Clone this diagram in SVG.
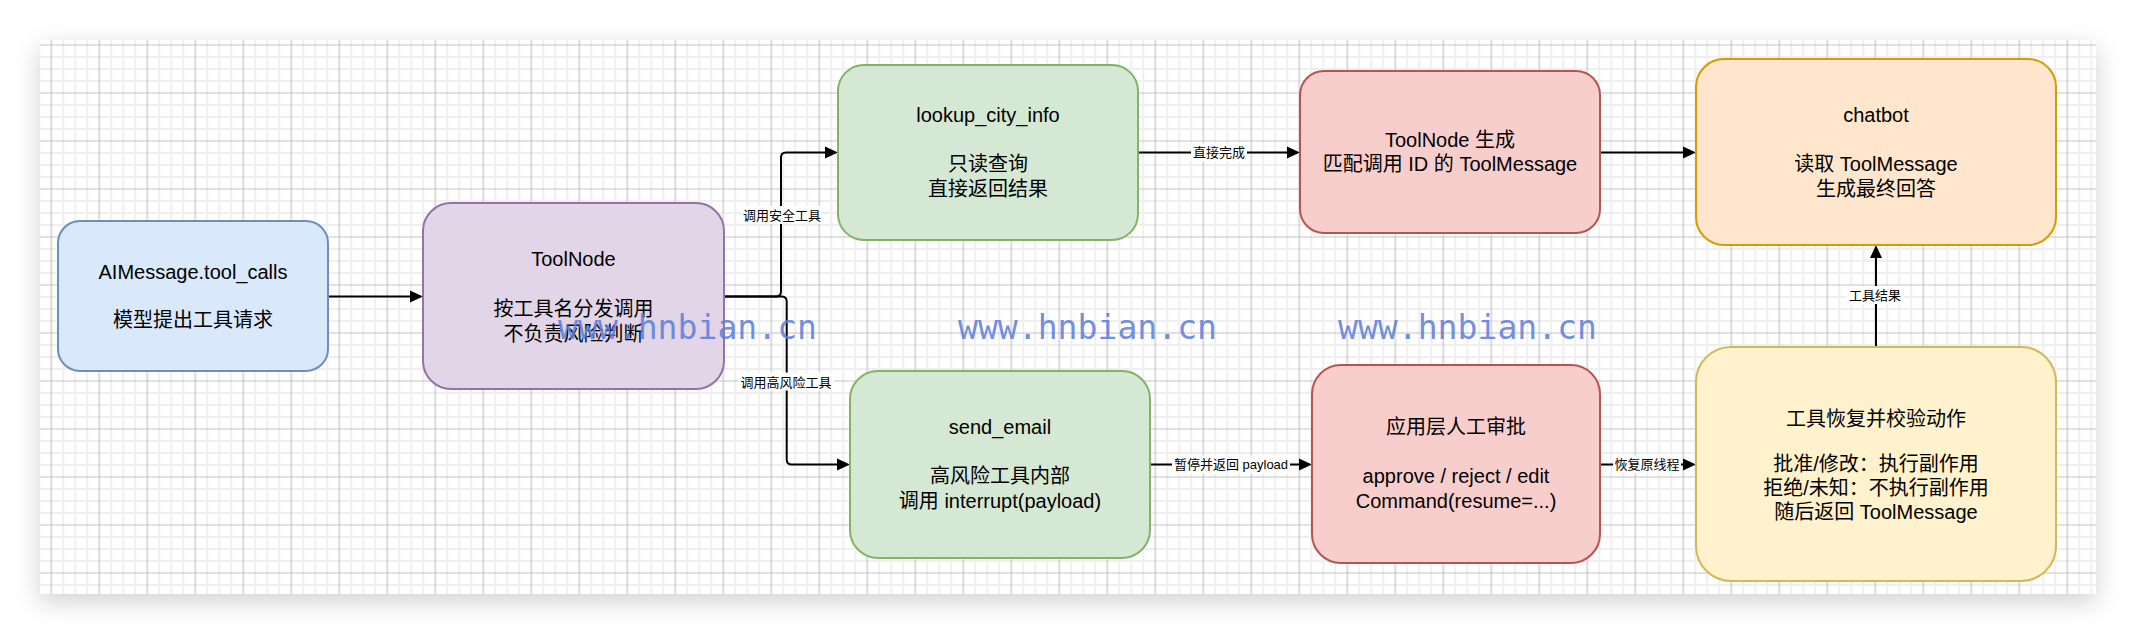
<svg xmlns="http://www.w3.org/2000/svg" width="2136" height="634" viewBox="0 0 2136 634">
<defs>
  <pattern id="grid" patternUnits="userSpaceOnUse" x="45.3" y="39" width="48" height="48">
    <path d="M18 0V48M30 0V48M42 0V48M0 18H48M0 30H48M0 42H48" stroke="#efefef" stroke-width="2" fill="none"/>
    <path d="M6 0V48M0 6H48" stroke="#c4c4c4" stroke-width="1.2" fill="none"/>
  </pattern>
  <filter id="shadow" x="-5%" y="-20%" width="110%" height="145%">
    <feDropShadow dx="0" dy="8" stdDeviation="12" flood-color="#000" flood-opacity="0.18"/>
  </filter>
  <marker id="arrow" markerUnits="userSpaceOnUse" markerWidth="14" markerHeight="14" refX="0" refY="6" orient="auto" overflow="visible">
    <path d="M0,0 L13,6 L0,12 Z" fill="#000"/>
  </marker>
</defs>
<style>
  .box { stroke-width: 2; }
  .t { font-family: "Liberation Sans", "Noto Sans CJK SC", sans-serif; font-size: 20px; fill: #000; text-anchor: middle; }
  .lbl { font-family: "Liberation Sans", "Noto Sans CJK SC", sans-serif; font-size: 13px; fill: #000; text-anchor: middle; }
  .edge { fill: none; stroke: #000; stroke-width: 2; marker-end: url(#arrow); }
  .wm { font-family: "DejaVu Sans Mono", "Liberation Mono", monospace; font-size: 34px; fill: #5f80dc; fill-opacity: 0.9; }
</style>
<rect x="0" y="0" width="2136" height="634" fill="#ffffff"/>
<rect x="40" y="40" width="2056" height="554" fill="#ffffff" filter="url(#shadow)"/>
<rect x="40" y="40" width="2056" height="554" fill="url(#grid)"/>

<g id="connectors">
  <path class="edge" d="M328 296.5H410"/>
  <path class="edge" d="M724 296.5H776Q781 296.5 781 291.5V157.5Q781 152.5 786 152.5H825"/>
  <path class="edge" d="M724 296.5H781.7Q786.7 296.5 786.7 301.5V459.5Q786.7 464.5 791.7 464.5H837"/>
  <path class="edge" d="M1138 152.5H1287"/>
  <path class="edge" d="M1600 152.5H1683"/>
  <path class="edge" d="M1150 464.5H1299"/>
  <path class="edge" d="M1600 464.5H1683"/>
  <path class="edge" d="M1876 347V258"/>
  <g id="edge-labels">
    <rect x="742" y="206" width="80" height="18" fill="#fff"/>
    <text class="lbl" x="782" y="220">调用安全工具</text>
    <rect x="738" y="372.5" width="96" height="18" fill="#fff"/>
    <text class="lbl" x="786" y="386.5">调用高风险工具</text>
    <rect x="1191" y="143.5" width="56" height="18" fill="#fff"/>
    <text class="lbl" x="1219" y="157">直接完成</text>
    <rect x="1172" y="455.5" width="118" height="18" fill="#fff"/>
    <text class="lbl" x="1231" y="469">暂停并返回 payload</text>
    <rect x="1613" y="455.5" width="68" height="18" fill="#fff"/>
    <text class="lbl" x="1647" y="469">恢复原线程</text>
    <rect x="1846" y="286" width="58" height="18" fill="#fff"/>
    <text class="lbl" x="1875" y="299.5">工具结果</text>
  </g>
</g>

<g id="node-aimessage">
  <rect class="box" x="58" y="221" width="270" height="150" rx="22" fill="#dae8fc" stroke="#6c8ebf"/>
  <text class="t" x="193" y="279">AIMessage.tool_calls</text>
  <text class="t" x="193" y="327">模型提出工具请求</text>
</g>
<g id="node-toolnode">
  <rect class="box" x="423" y="203" width="301" height="186" rx="28" fill="#e1d5e7" stroke="#9673a6"/>
  <text class="t" x="573.5" y="266">ToolNode</text>
  <text class="t" x="573.5" y="316">按工具名分发调用</text>
  <text class="t" x="573.5" y="341">不负责风险判断</text>
</g>
<g id="node-lookup">
  <rect class="box" x="838" y="65" width="300" height="175" rx="26" fill="#d5e8d4" stroke="#82b366"/>
  <text class="t" x="988" y="122">lookup_city_info</text>
  <text class="t" x="988" y="171">只读查询</text>
  <text class="t" x="988" y="195.5">直接返回结果</text>
</g>
<g id="node-send-email">
  <rect class="box" x="850" y="371" width="300" height="187" rx="28" fill="#d5e8d4" stroke="#82b366"/>
  <text class="t" x="1000" y="434">send_email</text>
  <text class="t" x="1000" y="482.5">高风险工具内部</text>
  <text class="t" x="1000" y="508">调用 interrupt(payload)</text>
</g>
<g id="node-toolnode-gen">
  <rect class="box" x="1300" y="71" width="300" height="162" rx="24" fill="#f8cecc" stroke="#b85450"/>
  <text class="t" x="1450" y="146.5">ToolNode 生成</text>
  <text class="t" x="1450" y="171">匹配调用 ID 的 ToolMessage</text>
</g>
<g id="node-approval">
  <rect class="box" x="1312" y="365" width="288" height="198" rx="29" fill="#f8cecc" stroke="#b85450"/>
  <text class="t" x="1456" y="434">应用层人工审批</text>
  <text class="t" x="1456" y="483">approve / reject / edit</text>
  <text class="t" x="1456" y="508">Command(resume=...)</text>
</g>
<g id="node-chatbot">
  <rect class="box" x="1696" y="59" width="360" height="186" rx="28" fill="#ffe6cc" stroke="#d79b00"/>
  <text class="t" x="1876" y="122">chatbot</text>
  <text class="t" x="1876" y="171">读取 ToolMessage</text>
  <text class="t" x="1876" y="196">生成最终回答</text>
</g>
<g id="node-resume">
  <rect class="box" x="1696" y="347" width="360" height="234" rx="35" fill="#fff2cc" stroke="#d6b656"/>
  <text class="t" x="1876" y="425.5">工具恢复并校验动作</text>
  <text class="t" x="1876" y="471">批准/修改：执行副作用</text>
  <text class="t" x="1876" y="494.5">拒绝/未知：不执行副作用</text>
  <text class="t" x="1876" y="518.5">随后返回 ToolMessage</text>
</g>

<g id="watermarks">
  <text class="wm" x="558" y="339" textLength="259" lengthAdjust="spacingAndGlyphs">www.hnbian.cn</text>
  <text class="wm" x="958" y="339" textLength="259" lengthAdjust="spacingAndGlyphs">www.hnbian.cn</text>
  <text class="wm" x="1338" y="339" textLength="259" lengthAdjust="spacingAndGlyphs">www.hnbian.cn</text>
</g>
</svg>
